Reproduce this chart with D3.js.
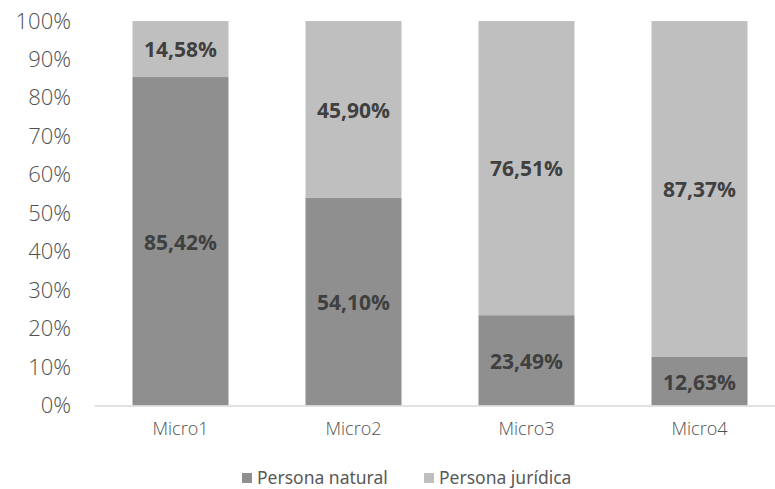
<!DOCTYPE html>
<html>
<head>
<meta charset="utf-8">
<script src="https://cdn.jsdelivr.net/npm/d3@7"></script>
<style>
  body { margin: 0; background: #fff; }
</style>
</head>
<body>
<svg id="chart"></svg>
<script>
const categories = ["Micro1", "Micro2", "Micro3", "Micro4"];
const natural = [85.42, 54.10, 23.49, 12.63];
const juridica = [14.58, 45.90, 76.51, 87.37];
const yTicks = [0, 10, 20, 30, 40, 50, 60, 70, 80, 90, 100];
const seriesNames = ["Persona natural", "Persona jurídica"];
const colors = ["#8f8f8f", "#bfbfbf"];

const width = 775, height = 489;
const svg = d3.select("#chart").attr("width", width).attr("height", height);

const x = d3.scaleBand()
    .domain(categories)
    .range([94, 786])
    .paddingInner(0.445)
    .paddingOuter(0.2225);

const y = d3.scaleLinear().domain([0, 100]).range([405.5, 21]);

const fmt = v => v.toFixed(2).replace(".", ",") + "%";

// stacked data
const rows = categories.map((c, i) => ({ cat: c, natural: natural[i], juridica: juridica[i] }));
const stack = d3.stack().keys(["natural", "juridica"])(rows);

const g = svg.append("g");
stack.forEach((layer, li) => {
    g.selectAll(".bar" + li)
        .data(layer)
        .enter()
        .append("rect")
        .attr("x", d => x(d.data.cat))
        .attr("width", x.bandwidth())
        .attr("y", d => y(d[1]))
        .attr("height", d => y(d[0]) - y(d[1]))
        .attr("fill", colors[li]);

    g.selectAll(".lab" + li)
        .data(layer)
        .enter()
        .append("text")
        .attr("x", d => x(d.data.cat) + x.bandwidth() / 2)
        .attr("y", d => (y(d[0]) + y(d[1])) / 2 + 1)
        .attr("dy", "0.35em")
        .attr("text-anchor", "middle")
        .attr("font-family", "'Open Sans', sans-serif")
        .attr("font-weight", "bold")
        .attr("font-size", 21)
        .attr("fill", "#404040")
        .text(d => fmt(d[1] - d[0]));
});

// y axis labels
const yAxis = d3.axisLeft(y)
    .tickValues(yTicks)
    .tickFormat(d => d + "%")
    .tickSize(0)
    .tickPadding(0);
const ya = svg.append("g").attr("transform", "translate(71,0)").call(yAxis);
ya.select(".domain").remove();
ya.selectAll("text")
    .attr("font-family", "'Open Sans', sans-serif")
    .attr("font-weight", 300)
    .attr("font-size", 22)
    .attr("fill", "#505050");

// x axis
const xAxis = d3.axisBottom(x).tickSize(0).tickPadding(17);
const xa = svg.append("g").attr("transform", "translate(0,405.5)").call(xAxis);
xa.select(".domain").attr("stroke", "#d9d9d9").attr("stroke-width", 1.5);
xa.selectAll("text")
    .attr("font-family", "'Open Sans', sans-serif")
    .attr("font-weight", 300)
    .attr("font-size", 18)
    .attr("fill", "#505050");

// legend
const legendX = [242, 424];
const legend = svg.append("g");
seriesNames.forEach((name, i) => {
    legend.append("rect")
        .attr("x", legendX[i])
        .attr("y", 473)
        .attr("width", 10)
        .attr("height", 10)
        .attr("fill", colors[i]);
    legend.append("text")
        .attr("x", legendX[i] + 15)
        .attr("y", 478)
        .attr("dy", "0.35em")
        .attr("font-family", "'Noto Sans', sans-serif")
        .attr("font-size", 17.5)
        .attr("fill", "#595959")
        .text(name);
});
</script>
</body>
</html>
